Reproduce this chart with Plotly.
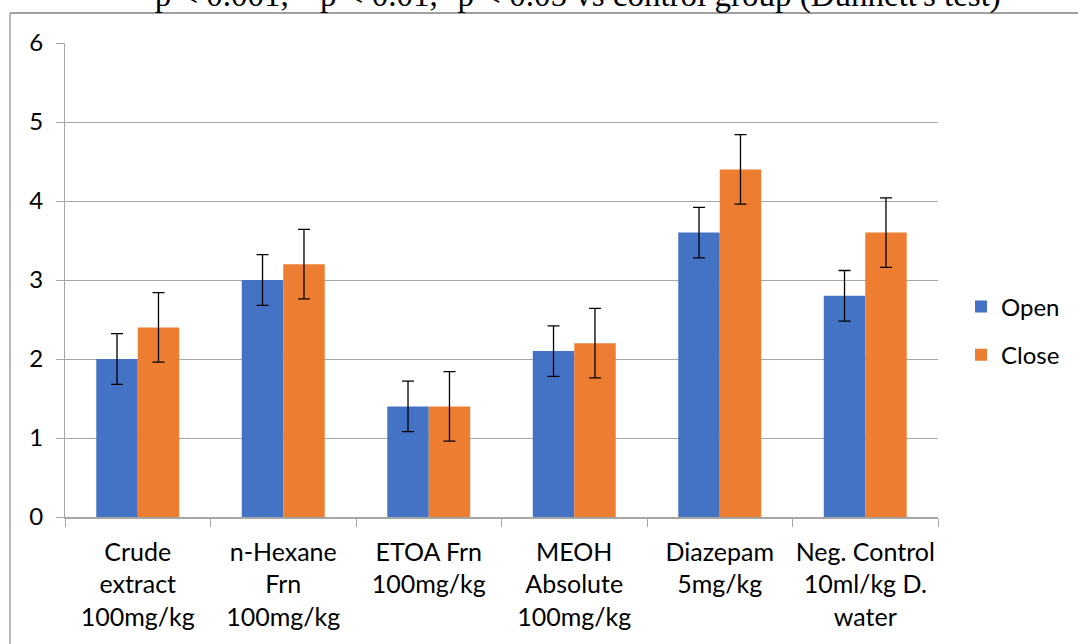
import plotly.graph_objects as go

categories = ["Crude<br>extract<br>100mg/kg", "n-Hexane<br>Frn<br>100mg/kg", "ETOA Frn<br>100mg/kg",
              "MEOH<br>Absolute<br>100mg/kg", "Diazepam<br>5mg/kg", "Neg. Control<br>10ml/kg D.<br>water"]
open_vals = [2.0, 3.0, 1.4, 2.1, 3.6, 2.8]
close_vals = [2.4, 3.2, 1.4, 2.2, 4.4, 3.6]
open_err = [0.32, 0.32, 0.32, 0.32, 0.32, 0.32]
close_err = [0.44, 0.44, 0.44, 0.44, 0.44, 0.44]
title_text = ("<sup>***</sup>p < 0.001, <sup>**</sup>p < 0.01, <sup>*</sup>p < 0.05 "
              "vs control group (Dunnett's test)")

W, H = 1078, 644
L, R, T, B = 65, 140, 43, 127
pw, ph = W - L - R, H - T - B

def px(x):
    return (x - L) / pw

def py(y):
    return (H - B - y) / ph

font = "Lato, Calibri, sans-serif"

fig = go.Figure()
fig.add_trace(go.Bar(x=categories, y=open_vals, name="Open", legendgroup="a",
                     marker=dict(color="#4472C4", line=dict(width=0)),
                     error_y=dict(type="data", array=open_err, color="black", thickness=1.3, width=6)))
fig.add_trace(go.Bar(x=categories, y=close_vals, name="Close", legendgroup="b",
                     marker=dict(color="#ED7D31", line=dict(width=0)),
                     error_y=dict(type="data", array=close_err, color="black", thickness=1.3, width=6)))

fig.update_layout(
    width=W, height=H,
    margin=dict(l=L, r=R, t=T, b=B, autoexpand=False),
    paper_bgcolor="white", plot_bgcolor="white",
    barmode="group", bargap=0.43, bargroupgap=0,
    font=dict(family=font, size=24, color="black"),
    showlegend=True,
    legend=dict(x=px(961), y=py(331), xanchor="left", yanchor="middle",
                font=dict(family=font, size=24), tracegroupgap=14,
                itemwidth=30, bgcolor="rgba(0,0,0,0)"),
    xaxis=dict(type="category", tickson="boundaries", ticks="outside", ticklen=8,
               tickcolor="#a6a6a6", showline=True, linecolor="#a6a6a6", linewidth=1.5,
               showgrid=False, tickangle=0, tickfont=dict(family=font, size=25),
               ticklabelstandoff=12),
    yaxis=dict(range=[0, 6], dtick=1, showgrid=True, gridcolor="#a6a6a6", gridwidth=1.2,
               ticks="outside", ticklen=8, tickcolor="#a6a6a6", showline=True,
               linecolor="#a6a6a6", linewidth=1.2, zeroline=False,
               ticklabelstandoff=8, tickfont=dict(family=font, size=24)),
)

fig.add_annotation(text=title_text, xref="paper", yref="paper", x=px(560), y=py(-7),
                   xanchor="center", yanchor="middle", showarrow=False,
                   font=dict(family="Liberation Serif, Times New Roman, serif", size=33, color="black"))

# outer chart-area border (top and left edges visible)
fig.add_shape(type="line", xref="paper", yref="paper", x0=px(10), x1=px(1090), y0=py(13), y1=py(13),
              line=dict(color="#808080", width=1.5))
fig.add_shape(type="line", xref="paper", yref="paper", x0=px(10), x1=px(10), y0=py(13), y1=py(660),
              line=dict(color="#a0a0a0", width=1.5))

fig.write_html("out.html", config={"displayModeBar": False},
               post_script="document.body.style.margin='0';document.body.style.overflow='hidden';")
